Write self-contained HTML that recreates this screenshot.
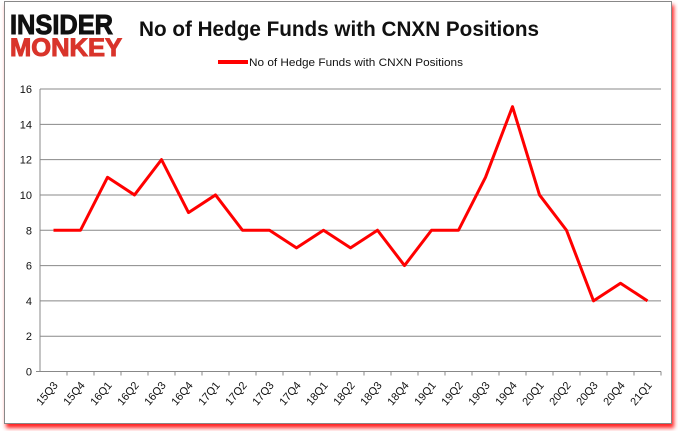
<!DOCTYPE html>
<html><head><meta charset="utf-8"><style>
body{margin:0;background:#fff;width:678px;height:431px;overflow:hidden;font-family:"Liberation Sans",sans-serif}
#frame{position:absolute;left:4px;top:1px;width:666px;height:421px;border:1px solid #888;box-shadow:2px 4px 4px #f22;background:#fff}
</style></head><body>
<div id="frame"></div>
<svg width="678" height="431" style="position:absolute;left:0;top:0" id="chart">
<g font-family="Liberation Sans,sans-serif" font-weight="900">
<text x="10" y="34" font-size="28" fill="#111" stroke="#111" stroke-width="1" textLength="103" lengthAdjust="spacingAndGlyphs">INSIDER</text>
<text x="10" y="56" font-size="25" fill="#d9342b" stroke="#d9342b" stroke-width="1" textLength="112" lengthAdjust="spacingAndGlyphs">MONKEY</text>
</g>
<text x="139" y="36" font-size="21" font-weight="bold" fill="#111" textLength="400" lengthAdjust="spacingAndGlyphs">No of Hedge Funds with CNXN Positions</text>
<line x1="218" y1="62" x2="248" y2="62" stroke="#f00" stroke-width="4"/>
<text x="249" y="66" font-size="11" fill="#111" textLength="214" lengthAdjust="spacingAndGlyphs">No of Hedge Funds with CNXN Positions</text>
<g id="grid"></g><g id="axes"></g>
</svg>
<script>
const categories=["15Q3","15Q4","16Q1","16Q2","16Q3","16Q4","17Q1","17Q2","17Q3","17Q4","18Q1","18Q2","18Q3","18Q4","19Q1","19Q2","19Q3","19Q4","20Q1","20Q2","20Q3","20Q4","21Q1"];
const values=[8,8,11,10,12,9,10,8,8,7,8,7,8,6,8,8,11,15,10,8,4,5,4];
const yTicks=[0,2,4,6,8,10,12,14,16];
const L=40,R=661,T=89,B=371.5,yMax=16;
const bw=(R-L)/categories.length;
const x=i=>L+bw*(i+0.5);
const y=v=>B-(v/yMax)*(B-T);
const svg=document.getElementById('chart'),NS="http://www.w3.org/2000/svg";
function mk(t,a){const e=document.createElementNS(NS,t);for(const k in a)e.setAttribute(k,a[k]);svg.appendChild(e);return e;}
yTicks.forEach(v=>{
 if(v>0){const g=mk('line',{x1:L,x2:R,y1:y(v),y2:y(v),stroke:'#888','stroke-width':1});
 
 }
 const t=mk('text',{x:L-8,y:y(v)+4,'font-size':11,'text-anchor':'end',fill:'#111'});t.textContent=v;
 
 
});
const ax=mk('line',{x1:L,x2:L,y1:T,y2:B,stroke:'#888'});


const bx=mk('line',{x1:L-4,x2:R,y1:B,y2:B,stroke:'#888'});


categories.forEach((c,i)=>{
 const tk=mk('line',{x1:L+bw*(i+1),x2:L+bw*(i+1),y1:B,y2:B+4,stroke:'#888'});
 
 
 const t=mk('text',{x:x(i)+5,y:B+14,'font-size':11,'text-anchor':'end',fill:'#111',transform:`rotate(-50 ${x(i)+5} ${B+14})`});
 t.textContent=c;
 
 
});
const p=mk('polyline',{points:values.map((v,i)=>x(i)+','+y(v)).join(' '),fill:'none',stroke:'#f00','stroke-width':3,'stroke-linejoin':'round'});


</script>
</body></html>
